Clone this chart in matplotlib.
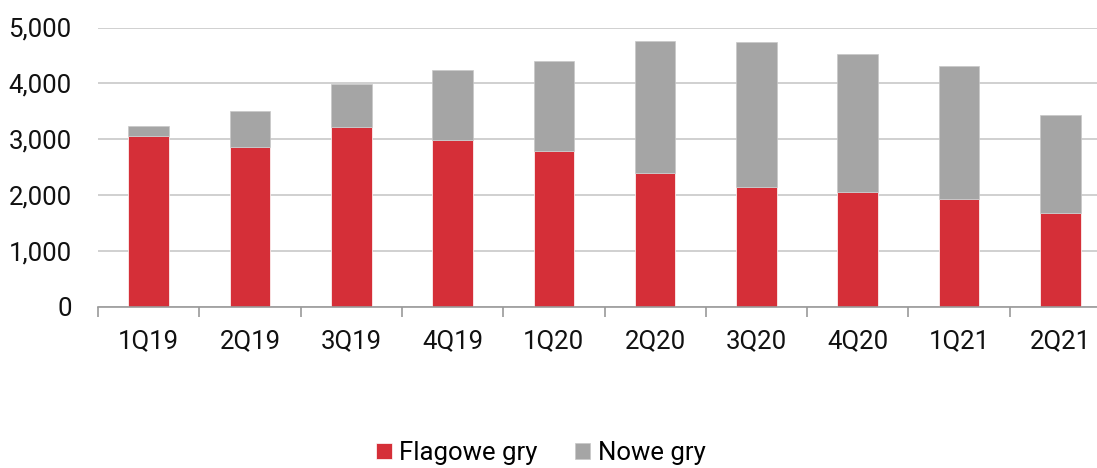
import matplotlib
matplotlib.use("Agg")
from matplotlib import pyplot as plt
import numpy as np

quarters = ["1Q19", "2Q19", "3Q19", "4Q19", "1Q20", "2Q20", "3Q20", "4Q20", "1Q21", "2Q21"]
flagowe = [3060, 2870, 3220, 2990, 2790, 2395, 2155, 2060, 1940, 1680]
totals = [3245, 3505, 3995, 4235, 4405, 4760, 4735, 4520, 4305, 3435]
nowe = [t - f for t, f in zip(totals, flagowe)]

RED = "#d52f38"
GREY = "#a5a5a5"

plt.rcParams["font.family"] = ["Roboto", "DejaVu Sans"]

fig = plt.figure(figsize=(10.97, 4.68), dpi=100)
# plot area runs a little past the right edge of the figure
ax = fig.add_axes([98 / 1097, 161 / 468, 1013 / 1097, 279.5 / 468])

x = np.arange(len(quarters))
ax.bar(x, flagowe, width=0.4, color=RED, edgecolor="white", linewidth=0.5,
       label="Flagowe gry", zorder=3)
ax.bar(x, nowe, width=0.4, bottom=flagowe, color=GREY, edgecolor="#c8c8c8",
       linewidth=0.5, label="Nowe gry", zorder=3)

ax.set_xlim(-0.5, len(quarters) - 0.5)
ax.set_ylim(0, 5000)
ax.set_yticks(range(0, 5001, 1000))
ax.set_yticklabels([f"{v:,}" for v in range(0, 5001, 1000)])
ax.yaxis.grid(True, color="#d0d0d0", linewidth=1.4, zorder=0)

ax.set_xticks(x)
ax.set_xticklabels(quarters)
ax.set_xticks(np.arange(-0.5, len(quarters), 1.0), minor=True)
ax.tick_params(axis="x", which="major", length=0, pad=16, labelsize=18.5, labelcolor="#111111")
ax.tick_params(axis="x", which="minor", length=7, width=1.2, color="#9a9a9a")
ax.tick_params(axis="y", length=0, pad=19, labelsize=18.5, labelcolor="#111111")

for side in ["top", "right", "left"]:
    ax.spines[side].set_visible(False)
ax.spines["bottom"].set_color("#9a9a9a")
ax.spines["bottom"].set_linewidth(1.2)
ax.spines["bottom"].set_zorder(4)

fig.legend(loc="center", bbox_to_anchor=(541 / 1097, 1 - 453 / 468), ncol=2,
           frameon=False, fontsize=18.5, handlelength=0.6, handleheight=0.6,
           handletextpad=0.3, columnspacing=1.45)

fig.savefig("out.png", dpi=100)
